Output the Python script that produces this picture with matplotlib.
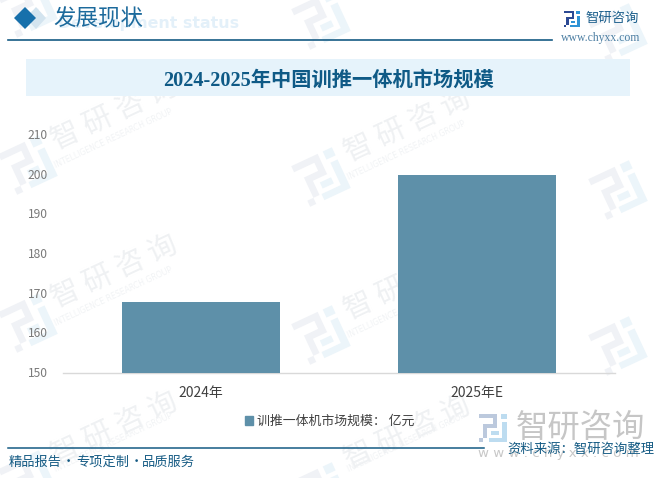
import math
import matplotlib
matplotlib.use('Agg')
import matplotlib.pyplot as plt
from matplotlib.patches import Polygon, Rectangle
from matplotlib.transforms import ScaledTranslation

plt.rcParams['font.family'] = ['Noto Sans CJK SC', 'DejaVu Sans']

categories = ['2024年', '2025年E']
values = [168, 200]
y_ticks = [150, 160, 170, 180, 190, 200, 210]
series_name = '训推一体机市场规模： 亿元'
chart_title = '2024-2025年中国训推一体机市场规模'
wm_logos = [(28, 8), (321, 20), (618, 33), (28, 165), (321, 177), (618, 190),
            (28, 323), (321, 335), (618, 346), (28, 480), (321, 492)]

W, H = 664, 478
fig = plt.figure(figsize=(W / 100, H / 100), dpi=100, facecolor='white')

bg = fig.add_axes([0, 0, 1, 1], zorder=0)
bg.set_xlim(0, W)
bg.set_ylim(H, 0)
bg.axis('off')

LEFT_PARTS = [
    [(-20, -20), (6, -20), (6, 0), (-8, 0), (-8, 14), (-14, 14), (-14, -6), (0, -6), (0, -14), (-20, -14)],
    [(-20, 14), (-14, 14), (-14, 20), (-20, 20)],
]
RIGHT_PARTS = [
    [(11, -20), (20, -20), (20, -12), (11, -12)],
    [(13, -8), (20, -8), (20, 20), (-6, 20), (-6, 14), (13, 14)],
    [(-3, 4), (8, 4), (8, 10), (-3, 10)],
]


def draw_logo(cx, cy, scale, angle, c_left, c_right, z):
    a = math.radians(angle)
    ca, sa = math.cos(a), math.sin(a)

    def place(pts):
        return [(cx + scale * (x * ca + y * sa), cy + scale * (-x * sa + y * ca)) for x, y in pts]

    for p in LEFT_PARTS:
        bg.add_patch(Polygon(place(p), closed=True, color=c_left, lw=0, zorder=z))
    for p in RIGHT_PARTS:
        bg.add_patch(Polygon(place(p), closed=True, color=c_right, lw=0, zorder=z))


for (x, y) in wm_logos:
    draw_logo(x, y, 1.12, 25, '#f0f2f6', '#ecf5fa', 1)
    tx, ty = x + 86, y - 51
    if 70 < tx < 600 and ty > 60:
        bg.text(tx, min(ty, 433), '智 研 咨 询', fontsize=21, color='#eff1f3', rotation=25, ha='center', va='center',
                rotation_mode='anchor', zorder=1)
        bg.text(x + 85, min(y - 27, 442), 'INTELLIGENCE RESEARCH GROUP', fontsize=5.6, color='#f1f3f5', rotation=25,
                ha='center', va='center', rotation_mode='anchor', family=['DejaVu Sans'], zorder=1)

# Banner header
bg.add_patch(Polygon([(36, 7), (46, 18), (36, 29), (26, 18)], closed=True, color='#d3e4ef', lw=0, zorder=2))
bg.add_patch(Polygon([(25, 7), (36, 18), (25, 29), (14, 18)], closed=True, color='#1770ab', lw=0, zorder=3))
bg.text(149, 23, 'Development status', fontsize=11.4, color='#e3f0f9', fontweight='bold', ha='center', va='center',
        family=['DejaVu Sans'], zorder=2)
bg.text(53, 18.5, '发展现状', fontsize=16.2, color='#1c6a9c', ha='left', va='center', zorder=3)
bg.plot([8, 552], [39.5, 39.5], color='#155b84', lw=1.2, zorder=3)

# Brand, top right
draw_logo(572, 19, 0.4, 0, '#2c4a94', '#2f93d5', 3)
bg.text(586, 17.5, '智研咨询', fontsize=9.6, color='#1c5f8c', ha='left', va='center')
bg.text(561, 38, 'www.chyxx.com', fontsize=8.5, color='#4d7fa3', ha='left', va='center', family=['Liberation Serif'])

# Title band
bg.add_patch(Rectangle((26, 59), 604, 37, color='#e6f3fb', lw=0, zorder=1))
bg.text(328, 80.5, chart_title, fontsize=14.6, color='#0f5a86', fontweight='bold', ha='center', va='center',
        family=['Liberation Serif', 'Noto Sans CJK SC'], zorder=3)

# Footer
bg.plot([8, 484], [447.5, 447.5], color='#155b84', lw=1.1, zorder=3)
draw_logo(493, 428, 0.72, 0, '#bcc9dd', '#bddcf0', 2)
bg.text(516, 428, '智研咨询', fontsize=23.3, color='#c6c6c6', ha='left', va='center', zorder=2)
bg.text(478, 453, 'w w w . c h y x x . c o m', fontsize=9.6, color='#c8c8c8', ha='left', va='center',
        family=['DejaVu Sans'], zorder=2)
bg.text(507, 449, '资料来源：智研咨询整理', fontsize=9.6, color='#155b84', ha='left', va='center', zorder=3)
for tx, s in [(9, '精品报告'), (76, '专项定制'), (142, '品质服务')]:
    bg.text(tx, 462, s, fontsize=9.5, color='#155b84', ha='left', va='center', zorder=3)
for tx in (68, 136):
    bg.text(tx, 461, '·', fontsize=9.5, color='#155b84', ha='center', va='center', zorder=3)

# Chart
ax = fig.add_axes([63 / W, 1 - 373 / H, (615 - 63) / W, (373 - 135) / H], zorder=2)
ax.patch.set_alpha(0)
x_pos = list(range(len(categories)))
ax.bar(x_pos, values, width=0.572, color='#5e90a9', zorder=3)
ax.set_xlim(-0.5, 1.5)
ax.set_ylim(150, 210)
ax.set_yticks(y_ticks)
ax.set_xticks(x_pos)
ax.set_xticklabels(categories, fontsize=10, color='#404040')
ax.tick_params(axis='x', length=0, pad=9)
ax.tick_params(axis='y', length=0, pad=11, labelsize=8.7, labelcolor='#7a7a7a')
up_1px = ScaledTranslation(0, 1 / 100, fig.dpi_scale_trans)
for lab in ax.get_yticklabels():
    lab.set_transform(lab.get_transform() + up_1px)
for s in ['top', 'right', 'left']:
    ax.spines[s].set_visible(False)
ax.spines['bottom'].set_color('#d9d9d9')
ax.spines['bottom'].set_linewidth(1)

handle = Rectangle((0, 0), 1, 1, color='#5e90a9')
fig.legend([handle], [series_name], loc='center', bbox_to_anchor=(330 / W, 1 - 421.5 / H), frameon=False,
           fontsize=9.3, labelcolor='#404040', handlelength=0.6, handleheight=0.75, handletextpad=0.35)

fig.savefig('out.png', dpi=100)
